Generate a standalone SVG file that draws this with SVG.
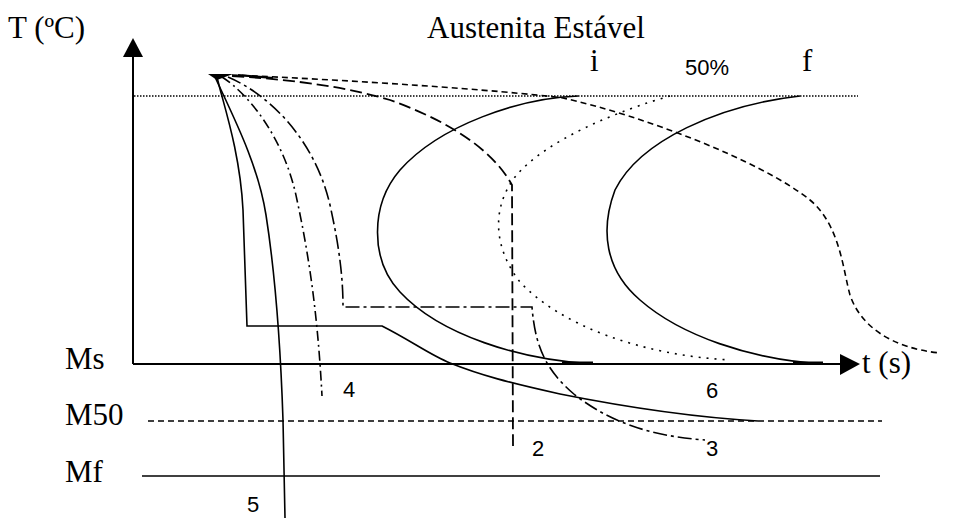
<svg xmlns="http://www.w3.org/2000/svg" width="980" height="518" viewBox="0 0 980 518">
<style>
.serif{font-family:"Liberation Serif","Times New Roman",serif;font-size:31px;fill:#000}
.sans{font-family:"Liberation Sans",Arial,sans-serif;font-size:22px;fill:#000}
.ln{fill:none;stroke:#000;stroke-width:1.6}
.ax{fill:none;stroke:#000;stroke-width:2}
.dot{fill:none;stroke:#000;stroke-width:1.4;stroke-dasharray:1.5 1.5}
.dots{fill:none;stroke:#000;stroke-width:1.6;stroke-dasharray:2 6}
.dash{fill:none;stroke:#000;stroke-width:1.6;stroke-dasharray:6 4}
.ldash{fill:none;stroke:#000;stroke-width:1.8;stroke-dasharray:12 5}
.dd{fill:none;stroke:#000;stroke-width:1.6;stroke-dasharray:10 4 2 4}
.dd2{fill:none;stroke:#000;stroke-width:1.6;stroke-dasharray:14 4 3 4}
</style>
<rect width="980" height="518" fill="#fff"/>
<g id="axes">
<line class="ax" x1="133" y1="55" x2="133" y2="364"/>
<polygon points="133,38 123,57 143,57" fill="#000"/>
<line class="ax" x1="133" y1="364" x2="842" y2="364"/>
<polygon points="860,364 840,354 840,375" fill="#000"/>
<line class="dot" x1="134" y1="96" x2="858" y2="96"/>
<line class="dash" x1="148" y1="421" x2="882" y2="421" stroke-dasharray="8 4"/>
<line class="ln" x1="142" y1="476" x2="880" y2="476"/>
</g>
<g id="labels">
<text class="serif" x="8" y="38">T (ºC)</text>
<text class="serif" x="427" y="38">Austenita Estável</text>
<text class="serif" x="590" y="71">i</text>
<text class="sans" x="685" y="75">50%</text>
<text class="serif" x="802" y="71">f</text>
<text class="serif" x="862" y="373" font-size="28">t (s)</text>
<text class="serif" x="65" y="369">Ms</text>
<text class="serif" x="65" y="425">M50</text>
<text class="serif" x="65" y="482">Mf</text>
<text class="sans" x="343" y="397">4</text>
<text class="sans" x="706" y="398">6</text>
<text class="sans" x="532" y="456">2</text>
<text class="sans" x="706" y="456">3</text>
<text class="sans" x="247" y="512">5</text>
</g>
<g id="transformation-curves">
<path class="ln" d="M578,96 C520,98 440,125 400,170 C370,205 370,260 400,292 C440,335 520,360 593,364"/>
<line x1="562" y1="363" x2="593" y2="363" stroke="#000" stroke-width="3"/>
<path class="dots" d="M670,96 C620,110 545,140 515,177 C490,210 495,250 520,282 C560,325 640,355 730,360"/>
<path class="ln" d="M800,96 C720,105 640,140 615,190 C600,230 605,270 640,300 C680,335 750,360 825,364"/>
<line x1="793" y1="363" x2="823" y2="363" stroke="#000" stroke-width="3"/>
</g>
<g id="cooling-curves">
<polygon points="208,74 233,74 217,80" fill="#000"/>
<line x1="238" y1="75" x2="273" y2="78" stroke="#000" stroke-width="2.2"/>
<path class="ln" d="M217,77 C222,100 240,150 243,210 L247,326 L382,326 C410,340 430,355 450,363 C480,375 510,383 560,394 C620,406 690,417 758,421"/>
<path class="ln" d="M215,77 C235,120 258,165 266,215 C273,260 280,330 283,420 L285,518"/>
<path class="dd" d="M222,77 C250,95 285,140 297,200 C310,260 318,320 322,396"/>
<path class="dd2" d="M228,77 C270,95 315,140 330,205 C340,250 343,280 343,307 L532,307 C535,345 545,370 575,395 C610,422 650,436 705,440"/>
<path class="ldash" d="M232,76 C300,80 350,88 390,100 C440,118 490,145 512,185 L513,446"/>
<path class="dash" d="M232,75 C350,80 500,90 563,98 C640,115 760,160 810,200 C840,225 843,270 850,295 C860,325 890,348 940,353"/>
</g>
</svg>
